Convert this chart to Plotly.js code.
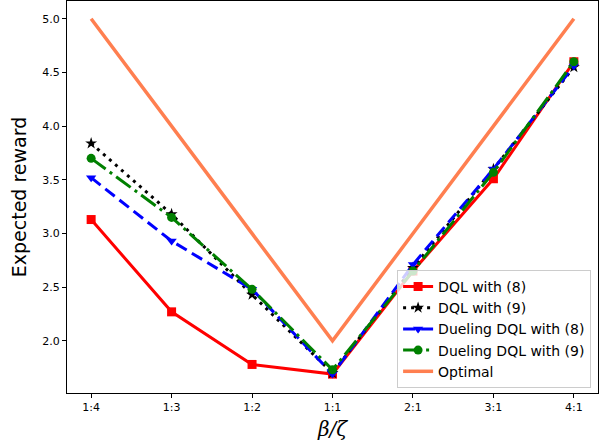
<!DOCTYPE html>
<html>
<head>
<meta charset="utf-8">
<script src="https://cdn.plot.ly/plotly-3.0.1.min.js"></script>
<style>html,body{margin:0;padding:0;background:#fff;}#chart{width:605px;height:444px;}</style>
</head>
<body>
<div id="chart"></div>
<script>
const categories = ["1:4", "1:3", "1:2", "1:1", "2:1", "3:1", "4:1"];
const dqlEq8 = [3.13, 2.27, 1.78, 1.69, 2.65, 3.51, 4.60];
const dqlEq9 = [3.84, 3.18, 2.43, 1.70, 2.68, 3.60, 4.55];
const duelingEq8 = [3.52, 2.93, 2.48, 1.69, 2.71, 3.60, 4.56];
const duelingEq9 = [3.70, 3.15, 2.48, 1.73, 2.65, 3.57, 4.60];
const optimal = [5.0, 4.0, 3.0, 2.0, 3.0, 4.0, 5.0];

const traces = [
  {x: categories, y: dqlEq8, name: "DQL with (8)", mode: "lines+markers",
   line: {color: "#ff0000", width: 3}, marker: {symbol: "square", size: 9, color: "#ff0000"}},
  {x: categories, y: dqlEq9, name: "DQL with (9)", mode: "lines+markers",
   line: {color: "#000000", width: 3, dash: "3px,5px"}, marker: {symbol: "star", size: 9, color: "#000000"}},
  {x: categories, y: duelingEq8, name: "Dueling DQL with (8)", mode: "lines+markers",
   line: {color: "#0000ff", width: 3, dash: "12px,6px"}, marker: {symbol: "triangle-down", size: 9, color: "#0000ff"}},
  {x: categories, y: duelingEq9, name: "Dueling DQL with (9)", mode: "lines+markers",
   line: {color: "#008000", width: 3, dash: "18px,5px,3px,5px"}, marker: {symbol: "circle", size: 9, color: "#008000"}},
  {x: categories, y: optimal, name: "Optimal", mode: "lines",
   line: {color: "#ff7f50", width: 3.5}}
];

const layout = {
  width: 605, height: 444,
  margin: {l: 67, r: 7, t: 1, b: 51},
  paper_bgcolor: "#ffffff", plot_bgcolor: "#ffffff",
  font: {family: "DejaVu Sans", color: "#000000"},
  showlegend: true,
  legend: {
    x: 0.987, xanchor: "right", y: 0.013, yanchor: "bottom",
    bgcolor: "rgba(255,255,255,0.8)", bordercolor: "#cccccc", borderwidth: 1,
    font: {family: "DejaVu Sans", size: 14, color: "#000000"}
  },
  xaxis: {
    type: "category", range: [-0.3, 6.3],
    showgrid: false, zeroline: false,
    showline: true, linecolor: "#000000", linewidth: 1, mirror: true,
    ticks: "outside", ticklen: 4, tickcolor: "#000000",
    tickfont: {family: "DejaVu Sans", size: 11},
    title: {text: "<i>β/ζ</i>", font: {family: "DejaVu Serif", size: 20}, standoff: 8}
  },
  yaxis: {
    range: [1.514, 5.166],
    tickvals: [2.0, 2.5, 3.0, 3.5, 4.0, 4.5, 5.0],
    ticktext: ["2.0", "2.5", "3.0", "3.5", "4.0", "4.5", "5.0"],
    showgrid: false, zeroline: false,
    showline: true, linecolor: "#000000", linewidth: 1, mirror: true,
    ticks: "outside", ticklen: 4, tickcolor: "#000000",
    tickfont: {family: "DejaVu Sans", size: 11},
    title: {text: "Expected reward", font: {family: "DejaVu Sans", size: 19}, standoff: 10}
  }
};

Plotly.newPlot("chart", traces, layout, {displayModeBar: false, staticPlot: true});
</script>
</body>
</html>
